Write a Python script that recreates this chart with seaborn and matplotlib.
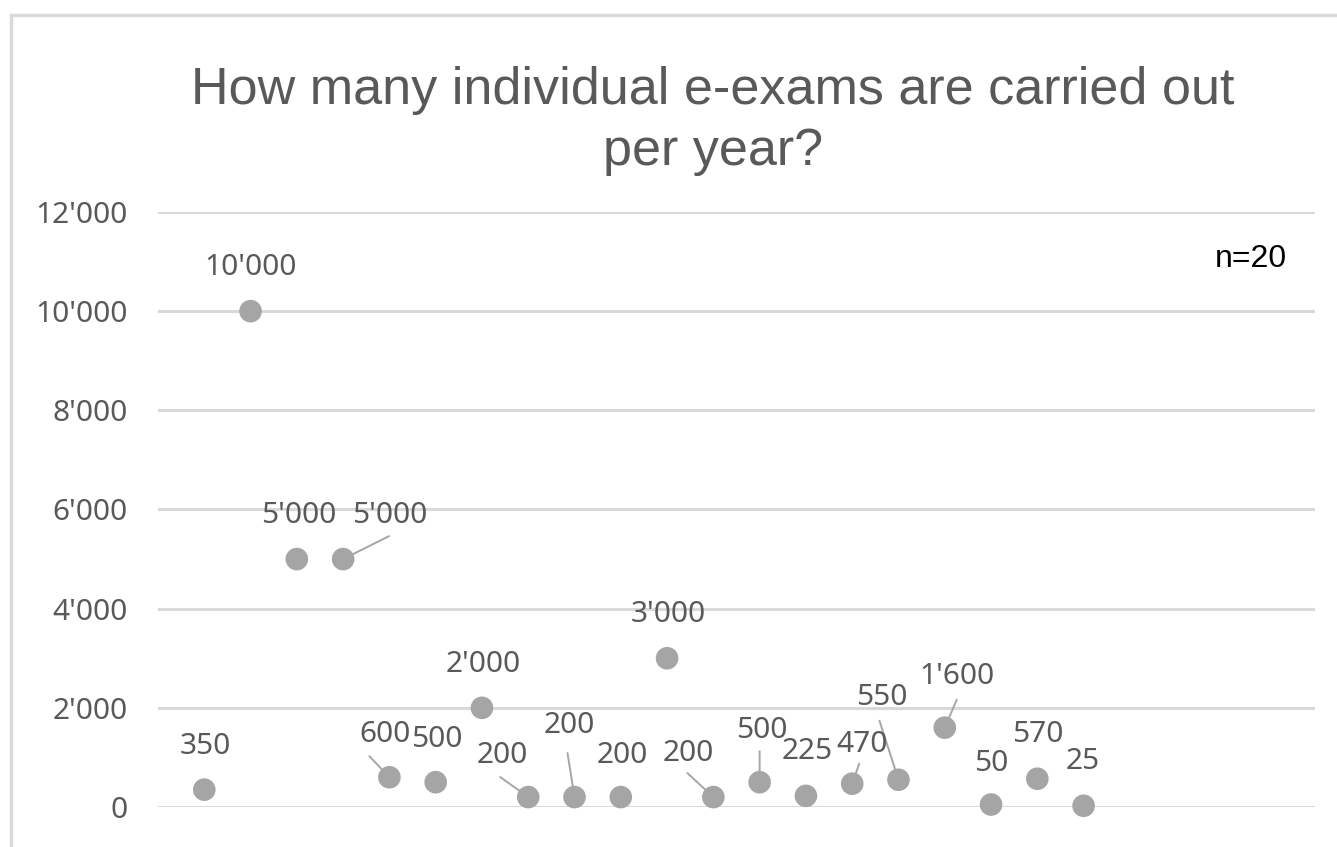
import matplotlib
matplotlib.use("Agg")
import matplotlib.pyplot as plt
from matplotlib.lines import Line2D
import seaborn as sns
import pandas as pd

# ---- data ----
respondent = list(range(1, 21))
exams = [350, 10000, 5000, 5000, 600, 500, 2000, 200, 200, 200,
         3000, 200, 500, 225, 470, 550, 1600, 50, 570, 25]
point_labels = ["350", "10'000", "5'000", "5'000", "600", "500", "2'000", "200", "200", "200",
                "3'000", "200", "500", "225", "470", "550", "1'600", "50", "570", "25"]
y_ticks = [0, 2000, 4000, 6000, 8000, 10000, 12000]
y_tick_labels = ["0", "2'000", "4'000", "6'000", "8'000", "10'000", "12'000"]
title = "How many individual e-exams are carried out\nper year?"
note = "n=20"

# ---- label layout (pixel offsets from point: text centre, leader end) ----
text_off = [(1, 47), (0, 47), (2, 47), (47, 47), (-4, 46), (1, 46), (1, 47), (-26, 45), (-5, 75), (1, 45),
            (1, 47), (-25, 47), (2, 55), (1, 48), (10, 43), (-17, 86), (12, 55), (0, 45), (0, 48), (-1, 48)]
leader_off = [None, None, None, (46, 23), (-20, 21), None, None, (-28, 20), (-7, 44), None,
              None, (-26, 24), (0, 31), None, (7, 20), (-19, 59), (12, 28), None, None, None]

W, H = 1337, 847
DPI = 100
sns.set_theme(style="white")
plt.rcParams['font.family'] = ['Noto Sans', 'DejaVu Sans']

fig = plt.figure(figsize=(W / DPI, H / DPI), dpi=DPI)
fig.patch.set_facecolor("white")
ax = fig.add_axes([158 / W, (H - 807) / H, 1157 / W, 595 / H])

df = pd.DataFrame({"respondent": respondent, "exams": exams})
sns.scatterplot(data=df, x="respondent", y="exams", ax=ax, s=265, color="#a5a5a5",
                edgecolor="none", linewidth=0, zorder=3, clip_on=False)

ax.set_xlim(0, 25)
ax.set_ylim(0, 12000)
ax.set_yticks(y_ticks)
ax.set_yticklabels(y_tick_labels, fontsize=21.5, color="#595959")
ax.set_xticks([])
ax.set_xlabel("")
ax.set_ylabel("")
ax.tick_params(axis="y", length=0, pad=22)
for sp in ax.spines.values():
    sp.set_visible(False)
ax.yaxis.grid(True, color="#d9d9d9", linewidth=2.2)
ax.set_axisbelow(True)

cap_half = 11
for xi, yi, lab, (dx, dy), lo in zip(respondent, exams, point_labels, text_off, leader_off):
    ax.annotate(lab, xy=(xi, yi), xytext=(dx, dy - cap_half), textcoords="offset pixels",
                ha="center", va="baseline", fontsize=21.5, color="#595959", zorder=4)
    if lo is not None:
        ax.annotate("", xy=(xi, yi), xytext=lo, textcoords="offset pixels",
                    arrowprops=dict(arrowstyle="-", color="#a6a6a6", lw=1.4,
                                    shrinkA=0, shrinkB=0), zorder=2)

fig.text(713 / W, 1 - 121 / H, title, ha="center", va="center", fontsize=37.5,
         color="#595959", family=["Liberation Sans", "DejaVu Sans"], linespacing=1.32)
fig.text(1251 / W, 1 - 259 / H, note, ha="center", va="center", fontsize=23,
         color="black", family=["Liberation Sans", "DejaVu Sans"])

# chart-area border (top and left edges visible)
fig.add_artist(Line2D([11 / W, 1.0], [1 - 15 / H, 1 - 15 / H], transform=fig.transFigure,
                      color="#d9d9d9", linewidth=2.5))
fig.add_artist(Line2D([11 / W, 11 / W], [1 - 15 / H, 0.0], transform=fig.transFigure,
                      color="#d9d9d9", linewidth=2.5))

fig.savefig("out.png", dpi=DPI)
